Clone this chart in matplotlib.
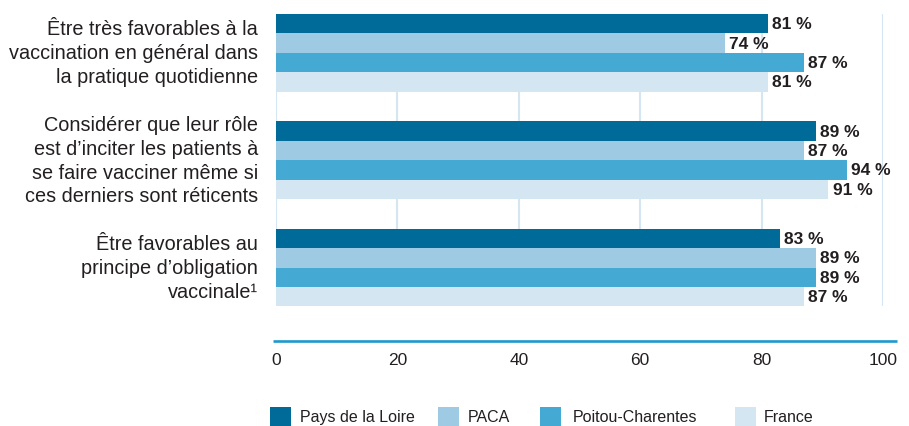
import matplotlib
matplotlib.use("Agg")
import matplotlib.pyplot as plt
from matplotlib.patches import Rectangle
import numpy as np

plt.rcParams['font.family'] = ['Liberation Sans', 'DejaVu Sans']

categories = [
    "Être très favorables à la\nvaccination en général dans\nla pratique quotidienne",
    "Considérer que leur rôle\nest d’inciter les patients à\nse faire vacciner même si\nces derniers sont réticents",
    "Être favorables au\nprincipe d’obligation\nvaccinale¹",
]
series_names = ["Pays de la Loire", "PACA", "Poitou-Charentes", "France"]
pays_de_la_loire = [81, 89, 83]
paca = [74, 87, 89]
poitou_charentes = [87, 94, 89]
france = [81, 91, 87]
series_values = [pays_de_la_loire, paca, poitou_charentes, france]
xticks = [0, 20, 40, 60, 80, 100]

colors = ["#006b99", "#9ecae3", "#44a9d3", "#d4e6f2"]
text_color = "#231f20"
grid_color = "#d4e6f2"
axis_color = "#1e98cf"

W, H = 909, 427
fig = plt.figure(figsize=(W / 100, H / 100), dpi=100)
# axes: x 0 -> px 276, 100 -> px 883; top of bars px 15, axis line px 342
ax = fig.add_axes([276 / W, 1 - 342 / H, (883 - 276) / W, (342 - 15) / H])

bar_h = 1.0
group_pitch = 5.54
n_series = len(series_names)
last_bottom = (len(categories) - 1) * group_pitch + n_series * bar_h

for gi in range(len(categories)):
    top = gi * group_pitch
    for si in range(n_series):
        v = series_values[si][gi]
        y = top + si * bar_h + bar_h / 2
        ax.barh(y, v, height=bar_h, color=colors[si], zorder=2, linewidth=0)
        ax.annotate(f"{v} %", (v, y), xytext=(3, 0), textcoords="offset points",
                    ha="left", va="center", fontsize=12.5, fontweight="bold",
                    color=text_color)
    ax.text(-0.03, top + n_series * bar_h / 2, categories[gi],
            transform=ax.get_yaxis_transform(), ha="right", va="center",
            fontsize=14.3, linespacing=1.32, color=text_color)

ax.vlines(xticks, 0, last_bottom, color=grid_color, linewidth=1.5, zorder=1)

ax.set_xlim(0, 100)
ax.set_ylim(16.86, 0)
for s in ax.spines.values():
    s.set_visible(False)
ax.set_yticks([])
ax.set_xticks(xticks)
ax.tick_params(axis="x", length=0, pad=8, labelsize=12.5, labelcolor=text_color)

ax.plot([-0.005, 1.023], [0, 0], transform=ax.transAxes, color=axis_color,
        linewidth=1.9, clip_on=False, solid_capstyle="butt")

# legend
patch_x = [270, 438, 540, 735]
label_x = [300, 468, 573, 764]
for name, c, px, lx in zip(series_names, colors, patch_x, label_x):
    fig.patches.append(Rectangle((px / W, 0), 21 / W, (H - 408) / H,
                                 transform=fig.transFigure, color=c, linewidth=0))
    fig.text(lx / W, 1 - 418 / H, name, ha="left", va="center",
             fontsize=11.5, color=text_color)

fig.savefig("out.png", dpi=100)
